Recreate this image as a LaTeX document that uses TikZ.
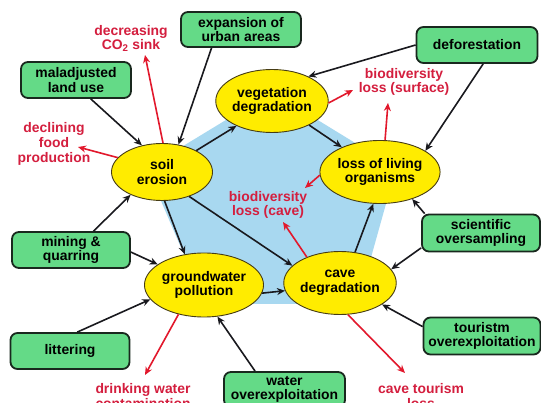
\documentclass[tikz,border=0pt]{standalone}
\usepackage{fontspec}
\setmainfont{Liberation Sans}
\usetikzlibrary{shapes.geometric,arrows.meta,calc}
\definecolor{ellfill}{RGB}{255,236,0}
\definecolor{ellline}{RGB}{70,60,20}
\definecolor{boxfill}{RGB}{100,218,135}
\definecolor{boxline}{RGB}{25,40,30}
\definecolor{penta}{RGB}{168,216,240}
\definecolor{redtxt}{RGB}{212,30,62}
\definecolor{redarr}{RGB}{226,24,44}
\definecolor{darr}{RGB}{25,25,30}
\tikzset{
  txt/.style={font=\fontsize{13.9}{14.6}\selectfont\bfseries, align=center},
  ell/.style={txt, ellipse, draw=ellline, line width=0.9pt, fill=ellfill, inner sep=0pt},
  gbox/.style={txt, rectangle, rounded corners=7pt, draw=boxline, line width=1.8pt, fill=boxfill, inner sep=0pt},
  rtxt/.style={txt, text=redtxt, inner sep=2pt},
  barr/.style={draw=darr, line width=1.6pt, -{Stealth[length=8pt,width=7pt]}},
  rarr/.style={draw=redarr, line width=1.6pt, -{Stealth[length=8pt,width=7pt]}}
}
\begin{document}
\begin{tikzpicture}[x=1pt,y=-1pt]
\useasboundingbox (0,0) rectangle (541,403);
\clip (0,0) rectangle (541,403);
\fill[white] (0,0) rectangle (541,403);
% pentagon
\fill[penta] (272,92) -- (396,168) -- (358,304) -- (205,304) -- (147,168) -- cycle;

% ellipses
\node[ell, minimum width=102pt, minimum height=63pt] (veg) at (272,101) {vegetation\\degradation};
\node[ell, minimum width=101pt, minimum height=57pt] (soil) at (162,172) {soil\\erosion};
\node[ell, minimum width=103pt, minimum height=63pt] (loss) at (380,172) {loss of living\\organisms};
\node[ell, minimum width=102pt, minimum height=64pt] (gw) at (204,285) {groundwater\\pollution};
\node[ell, minimum width=98pt, minimum height=63pt] (cave) at (340,283) {cave\\degradation};

% boxes
\node[gbox, minimum width=110pt, minimum height=36pt] (mal) at (76,80) {maladjusted\\land use};
\node[gbox, minimum width=120pt, minimum height=35pt] (urb) at (241,29.5) {expansion of\\urban areas};
\node[gbox, minimum width=121pt, minimum height=36pt] (def) at (477,45) {deforestation};
\node[gbox, minimum width=118pt, minimum height=36pt] (min) at (71,250) {mining \&\\quarring};
\node[gbox, minimum width=119pt, minimum height=36pt] (lit) at (70,351) {littering};
\node[gbox, minimum width=118pt, minimum height=37pt] (sci) at (481,233) {scientific\\oversampling};
\node[gbox, minimum width=117pt, minimum height=37pt] (tou) at (482,336) {touristm\\overexploitation};
\node[gbox, minimum width=121pt, minimum height=35pt] (wat) at (284.5,389.5) {water\\overexploitation};

% red texts
\node[rtxt] (co2) at (131,38.5) {decreasing\\CO\textsubscript{2} sink};
\node[rtxt] (food) at (54,144) {declining\\food\\production};
\node[rtxt] (surf) at (404,82) {biodiversity\\loss (surface)};
\node[rtxt] (cavetxt) at (268,205) {biodiversity\\loss (cave)};
\node[rtxt] (drink) at (143,396) {drinking water\\contamination};
\node[rtxt] (ctl) at (421,396) {cave tourism\\loss};

% black arrows
\draw[barr] (mal.-52) -- (soil.127);
\draw[barr] (urb.-148) -- (soil.59);
\draw[barr] (soil.32) -- (veg.215);
\draw[barr] (veg.-33) -- (loss.147);
\draw[barr] (def.west) -- (veg.34);
\draw[barr] (def.-72) -- (loss.25);
\draw[barr] (cave.64) -- (loss.-102);
\draw[barr] (sci.161) -- (loss.-40);
\draw[barr] (sci.194.5) -- (cave.15);
\draw[barr] (tou.171) -- (cave.-27);
\draw[barr] (soil.-42) -- (cave.160);
\draw[barr] (soil.-85) -- (gw.122);
\draw[barr] (gw.-8) -- (cave.188);
\draw[barr] (min.40.6) -- (soil.216);
\draw[barr] (min.-2) -- (gw.156.5);
\draw[barr] (lit.69) -- (gw.195);
\draw[barr] (wat.148) -- (gw.-67);

% red arrows
\draw[rarr] (soil.88) -- ($(co2)+(14,16.5)$);
\draw[rarr] (soil.162) -- ($(food)+(24,3)$);
\draw[rarr] (veg.-2) -- ($(surf)+(-51,8)$);
\draw[rarr] (loss.81) -- ($(surf)+(-16,21)$);
\draw[rarr] (loss.183) -- ($(cavetxt)+(37,-17)$);
\draw[rarr] (cave.142) -- ($(cavetxt)+(15,17)$);
\draw[rarr] (cave.-76) -- ($(ctl)+(-16,-23)$);
\draw[rarr] (gw.229) -- ($(drink)+(2,-21)$);
\end{tikzpicture}
\end{document}
